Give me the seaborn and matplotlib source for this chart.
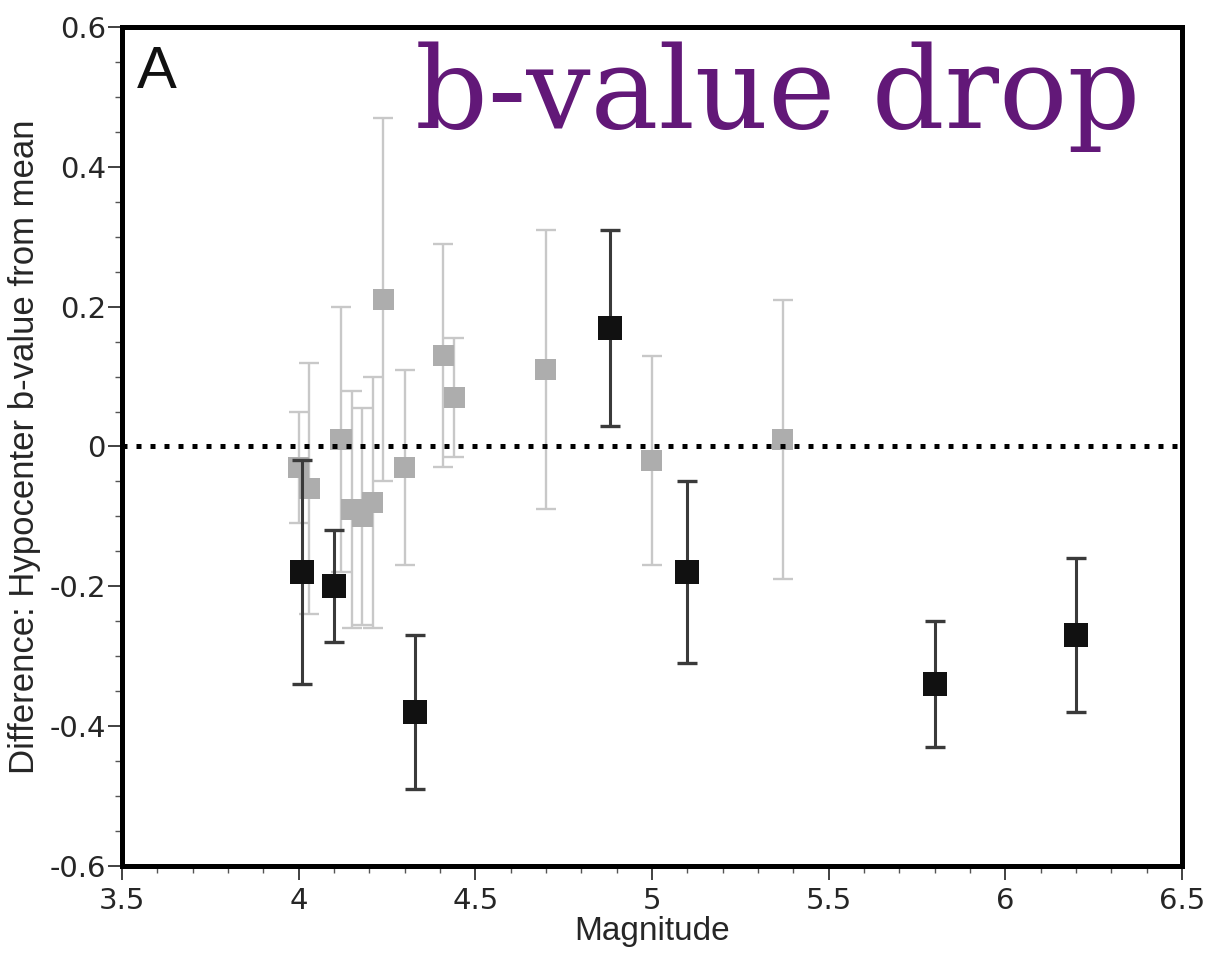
import numpy as np
import pandas as pd
import matplotlib
matplotlib.use("Agg")
import matplotlib.pyplot as plt
import seaborn as sns
from matplotlib.ticker import MultipleLocator, FuncFormatter

# events with significant b-value drop (black)
black_mag = [4.01, 4.10, 4.33, 4.88, 5.10, 5.80, 6.20]
black_diff = [-0.18, -0.20, -0.38, 0.17, -0.18, -0.34, -0.27]
black_err = [0.16, 0.08, 0.11, 0.14, 0.13, 0.09, 0.11]

# other events (gray)
gray_mag = [4.00, 4.03, 4.12, 4.15, 4.18, 4.21, 4.24, 4.30, 4.41, 4.44, 4.70, 5.00, 5.37]
gray_diff = [-0.03, -0.06, 0.01, -0.09, -0.10, -0.08, 0.21, -0.03, 0.13, 0.07, 0.11, -0.02, 0.01]
gray_err = [0.08, 0.18, 0.19, 0.17, 0.155, 0.18, 0.26, 0.14, 0.16, 0.085, 0.20, 0.15, 0.20]

x_ticks = [3.5, 4, 4.5, 5, 5.5, 6, 6.5]
y_ticks = [-0.6, -0.4, -0.2, 0, 0.2, 0.4, 0.6]


def main():
    sns.set_theme(style="ticks")
    plt.rcParams["font.family"] = ["Liberation Sans", "DejaVu Sans"]

    black = pd.DataFrame({"mag": black_mag, "diff": black_diff, "err": black_err})
    gray = pd.DataFrame({"mag": gray_mag, "diff": gray_diff, "err": gray_err})

    fig = plt.figure(figsize=(12.05, 9.61), dpi=100)
    ax = fig.add_axes([0.1012, 0.0989, 0.8797, 0.873])

    # gray events
    ax.errorbar(gray["mag"], gray["diff"], yerr=gray["err"], fmt="none",
                ecolor="#c8c8c8", elinewidth=1.7, capsize=7, capthick=1.7, zorder=2)
    sns.scatterplot(data=gray, x="mag", y="diff", marker="s", s=230,
                    color="#adadad", edgecolor="none", linewidth=0, ax=ax, zorder=3)

    # zero line
    ax.axhline(0, color="black", lw=3.6, linestyle=(0, (1, 1.8)), zorder=4)

    # black events
    ax.errorbar(black["mag"], black["diff"], yerr=black["err"], fmt="none",
                ecolor="#3a3a3a", elinewidth=2.2, capsize=7, capthick=2.4, zorder=5)
    sns.scatterplot(data=black, x="mag", y="diff", marker="s", s=300,
                    color="#111111", edgecolor="none", linewidth=0, ax=ax, zorder=6)

    ax.set_xlim(3.5, 6.5)
    ax.set_ylim(-0.6, 0.6)
    ax.set_xticks(x_ticks)
    ax.set_yticks(y_ticks)
    ax.xaxis.set_minor_locator(MultipleLocator(0.1))
    ax.yaxis.set_minor_locator(MultipleLocator(0.05))
    fmt = FuncFormatter(lambda v, p: "0" if abs(v) < 1e-9 else ("%g" % v))
    ax.xaxis.set_major_formatter(fmt)
    ax.yaxis.set_major_formatter(fmt)

    ax.tick_params(axis="both", which="major", direction="out", length=10, width=1.3,
                   labelsize=21, color="#333333")
    ax.tick_params(axis="y", which="major", pad=1.5)
    ax.tick_params(axis="x", which="major", pad=5)
    ax.tick_params(axis="both", which="minor", direction="out", length=5, width=1.0,
                   color="#555555")
    ax.tick_params(top=False, right=False)
    for lab in ax.get_xticklabels() + ax.get_yticklabels():
        lab.set_fontfamily(["DejaVu Sans"])

    for sp in ax.spines.values():
        sp.set_visible(True)
        sp.set_linewidth(3.6)
        sp.set_color("black")

    ax.set_xlabel("Magnitude", fontsize=24, labelpad=1)
    ax.set_ylabel("Difference: Hypocenter b-value from mean", fontsize=25, labelpad=6)

    ax.text(0.014, 0.979, "A", transform=ax.transAxes, ha="left", va="top",
            fontsize=43, color="#111111")
    ax.text(0.2764, 0.8796, "b-value drop", transform=ax.transAxes, ha="left",
            va="baseline", fontsize=82, color="#621878", family=["DejaVu Serif"])

    fig.savefig("out.png", dpi=100)


if __name__ == "__main__":
    main()
